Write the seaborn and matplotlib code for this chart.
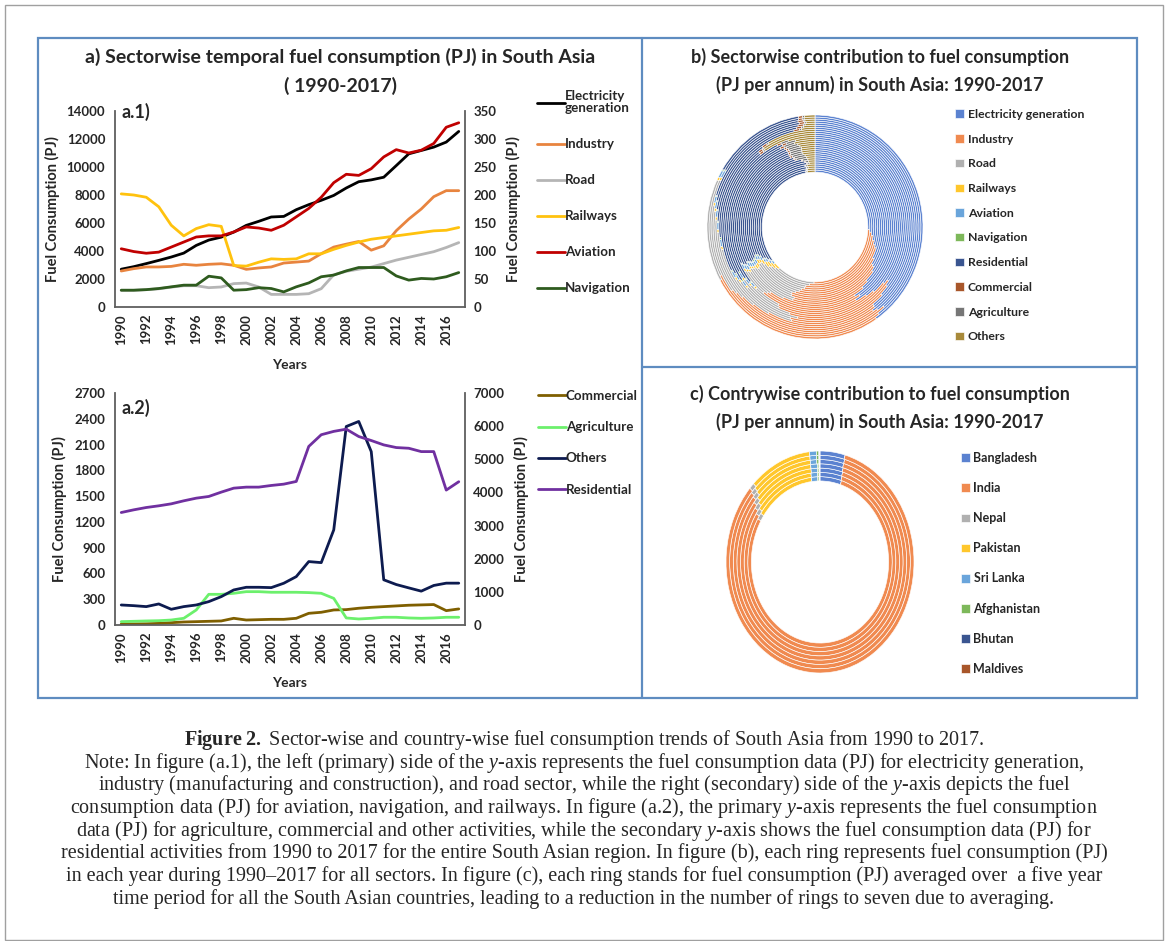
import matplotlib
matplotlib.use("Agg")
import matplotlib.pyplot as plt
import seaborn as sns
import pandas as pd
from matplotlib.patches import Rectangle
from matplotlib.lines import Line2D

# ---------------------------------------------------------------- data
years = list(range(1990, 2018))

# a.1 primary axis (PJ)
electricity = [2700, 2880, 3100, 3330, 3570, 3850, 4400, 4780, 4990, 5350,
               5830, 6120, 6430, 6470, 6950, 7310, 7620, 7970, 8500, 8950,
               9080, 9270, 10100, 10940, 11180, 11420, 11780, 12540]
industry = [2570, 2740, 2860, 2860, 2900, 3050, 2980, 3050, 3090, 2980,
            2690, 2790, 2860, 3140, 3210, 3280, 3810, 4280, 4490, 4680,
            4060, 4370, 5450, 6280, 7000, 7880, 8310, 8310]
road = [1190, 1190, 1240, 1300, 1420, 1520, 1520, 1380, 1430, 1670,
        1710, 1430, 900, 900, 900, 950, 1310, 2300, 2550, 2700,
        2850, 3100, 3350, 3550, 3750, 3950, 4250, 4600]
# a.1 secondary axis (PJ)
railways = [202, 200, 196, 179, 146, 127, 140, 147, 144, 74,
            73, 80, 86, 85, 86, 95, 95, 103, 110, 116,
            121, 124, 127, 130, 133, 136, 137, 142]
aviation = [104, 99, 96, 98, 107, 116, 125, 127, 127, 134,
            143, 141, 137, 146, 161, 176, 196, 222, 237, 235,
            247, 268, 281, 275, 280, 292, 321, 329]
navigation = [30, 30, 31, 33, 36, 39, 39, 55, 52, 30,
              31, 34.5, 33, 27, 36, 43, 54, 57, 64.5, 70.5,
              70.5, 70.5, 55.5, 48, 51, 50, 54, 61.5]

# a.2 primary axis (PJ)
commercial = [12, 12, 14, 19, 27, 35, 39, 43, 47, 78,
              58, 62, 66, 66, 78, 136, 148, 175, 179, 195,
              206, 214, 222, 230, 234, 238, 167, 187]
agriculture = [39, 43, 47, 50, 58, 78, 175, 357, 357, 369,
               388, 388, 381, 381, 381, 377, 369, 310, 82, 70,
               78, 90, 90, 82, 78, 82, 90, 90]
others = [233, 225, 214, 245, 183, 214, 233, 272, 330, 408,
          439, 439, 435, 486, 563, 738, 726, 1107, 2310, 2369,
          2018, 526, 471, 432, 394, 460, 487, 487]
# a.2 secondary axis (PJ)
residential = [3394, 3475, 3545, 3596, 3656, 3747, 3827, 3878, 4009, 4129,
               4160, 4160, 4210, 4250, 4331, 5388, 5741, 5842, 5909, 5687,
               5566, 5434, 5354, 5333, 5232, 5232, 4071, 4323]

# c) country shares of fuel consumption (%), one ring per averaging period
periods = ["P1", "P2", "P3", "P4", "P5", "P6", "P7"]
bangladesh = [4.8, 4.7, 4.6, 4.5, 4.4, 4.4, 4.3]
india = [78.6, 79.3, 80.0, 80.8, 81.5, 81.8, 82.2]
nepal = [1.2, 1.1, 1.1, 1.0, 1.0, 0.9, 0.9]
pakistan = [13.4, 12.9, 12.3, 11.8, 11.2, 11.0, 10.7]
sri_lanka = [1.4, 1.4, 1.3, 1.3, 1.2, 1.2, 1.2]
afghanistan = [0.3, 0.3, 0.3, 0.3, 0.4, 0.4, 0.4]
bhutan = [0.1, 0.1, 0.1, 0.1, 0.1, 0.1, 0.1]
maldives = [0.1, 0.1, 0.1, 0.1, 0.1, 0.1, 0.1]

year_ticks = list(range(1990, 2017, 2))
a1_left_ticks = list(range(0, 14001, 2000))
a1_right_ticks = list(range(0, 351, 50))
a2_left_ticks = list(range(0, 2701, 300))
a2_right_ticks = list(range(0, 7001, 1000))

sector_names = ["Electricity generation", "Industry", "Road", "Railways",
                "Aviation", "Navigation", "Residential", "Commercial",
                "Agriculture", "Others"]
country_names = ["Bangladesh", "India", "Nepal", "Pakistan", "Sri Lanka",
                 "Afghanistan", "Bhutan", "Maldives"]

# ---------------------------------------------------------------- style
sns.set_theme(style="white")
plt.rcParams["font.family"] = ["Lato", "DejaVu Sans"]
plt.rcParams["mathtext.fontset"] = "custom"
plt.rcParams["mathtext.rm"] = "Liberation Serif"
plt.rcParams["mathtext.it"] = "Liberation Serif:italic"
plt.rcParams["mathtext.bf"] = "Liberation Serif:bold"

W, H = 1168, 941
fig = plt.figure(figsize=(W / 100, H / 100), dpi=100)
fig.patch.set_facecolor("white")


def box(x0, y0, x1, y1):
    return [x0 / W, 1 - y1 / H, (x1 - x0) / W, (y1 - y0) / H]


def fx(x):
    return x / W


def fy(y):
    return 1 - y / H


SPINE = "#5f5f5f"
TICK_FS = 9.5
LABEL_FS = 10.5


def style_pair(ax, ax2, lticks, rticks):
    ax.set_xlim(1989.5, 2017.5)
    ax.set_ylim(lticks[0], lticks[-1])
    ax2.set_ylim(rticks[0], rticks[-1])
    ax.set_yticks(lticks)
    ax2.set_yticks(rticks)
    ax.set_xticks(year_ticks)
    ax.set_xticklabels([str(y) for y in year_ticks], rotation=90,
                       fontsize=TICK_FS, fontweight="bold")
    ax.set_yticklabels([str(v) for v in lticks], fontsize=TICK_FS,
                       fontweight="bold")
    ax2.set_yticklabels([str(v) for v in rticks], fontsize=TICK_FS,
                        fontweight="bold")
    ax.tick_params(axis="y", length=0, pad=7)
    ax.tick_params(axis="x", length=0, pad=5)
    ax2.tick_params(axis="y", length=0, pad=6)
    for s in ["top", "right"]:
        ax.spines[s].set_visible(False)
    for s in ["top", "left", "bottom"]:
        ax2.spines[s].set_visible(False)
    for s in ["left", "bottom"]:
        ax.spines[s].set_color(SPINE)
        ax.spines[s].set_linewidth(1.3)
    ax2.spines["right"].set_color(SPINE)
    ax2.spines["right"].set_linewidth(1.3)
    ax.grid(False)
    ax2.grid(False)
    ax.set_xlabel("Years", fontsize=10, fontweight="bold", labelpad=10)
    ax.set_ylabel("Fuel Consumption (PJ)", fontsize=LABEL_FS,
                  fontweight="bold", labelpad=5)
    ax2.set_ylabel("Fuel Consumption (PJ)", fontsize=LABEL_FS,
                   fontweight="bold", labelpad=7)


def draw(ax, values, color, label):
    sns.lineplot(x=years, y=values, color=color, linewidth=2.0, ax=ax,
                 legend=False)
    return Line2D([], [], color=color, linewidth=2.0, label=label)


LEG_FS = 9.6

# ---------------------------------------------------------------- a.1
ax1 = fig.add_axes(box(115, 111, 465, 307))
ax1b = ax1.twinx()
h_elec = draw(ax1, electricity, "#000000", "Electricity\ngeneration")
h_ind = draw(ax1, industry, "#E8843F", "Industry")
h_road = draw(ax1, road, "#B5B5B5", "Road")
h_rail = draw(ax1b, railways, "#FFC20E", "Railways")
h_av = draw(ax1b, aviation, "#C00000", "Aviation")
h_nav = draw(ax1b, navigation, "#2E5B1E", "Navigation")
style_pair(ax1, ax1b, a1_left_ticks, a1_right_ticks)
leg1 = ax1b.legend(handles=[h_elec, h_ind, h_road, h_rail, h_av, h_nav],
                   loc="upper left", bbox_to_anchor=(fx(537), fy(90)),
                   bbox_transform=fig.transFigure, frameon=False,
                   borderpad=0, borderaxespad=0, handlelength=2.1,
                   handletextpad=0.0, labelspacing=1.8,
                   prop=dict(size=LEG_FS, weight="bold"))
for t in leg1.get_texts():
    t.set_linespacing(1.05)
fig.text(fx(122), fy(112), "a.1)", fontsize=13, fontweight="bold",
         ha="left", va="center")

# ---------------------------------------------------------------- a.2
ax2 = fig.add_axes(box(115, 393, 465, 625))
ax2b = ax2.twinx()
h_com = draw(ax2, commercial, "#7F5F00", "Commercial")
h_agr = draw(ax2, agriculture, "#6CF06C", "Agriculture")
h_oth = draw(ax2, others, "#0D1B4F", "Others")
h_res = draw(ax2b, residential, "#7030A0", "Residential")
style_pair(ax2, ax2b, a2_left_ticks, a2_right_ticks)
ax2b.legend(handles=[h_com, h_agr, h_oth, h_res],
            loc="upper left", bbox_to_anchor=(fx(538), fy(390)),
            bbox_transform=fig.transFigure, frameon=False, borderpad=0,
            borderaxespad=0, handlelength=2.1, handletextpad=0.0,
            labelspacing=1.44, prop=dict(size=LEG_FS, weight="bold"))
fig.text(fx(122), fy(408), "a.2)", fontsize=13, fontweight="bold",
         ha="left", va="center")

fig.text(fx(340), fy(57), "a) Sectorwise temporal fuel consumption (PJ) in South Asia",
         fontsize=14, fontweight="bold", ha="center", va="center")
fig.text(fx(340), fy(86), "( 1990-2017)", fontsize=14, fontweight="bold",
         ha="center", va="center")


# ---------------------------------------------------------------- donuts
def donut(ax, table, colors, inner):
    n = len(table)
    w = (1.0 - inner) / n
    wedges = None
    for i, (_, row) in enumerate(table.iterrows()):
        wedges, _ = ax.pie(row.values, radius=inner + (i + 1) * w,
                           colors=colors, startangle=90, counterclock=False,
                           wedgeprops=dict(width=w, edgecolor="white",
                                           linewidth=0.45))
    ax.set_aspect("auto")
    ax.set_xlim(-1, 1)
    ax.set_ylim(-1, 1)
    ax.axis("off")
    return wedges


sector_table = pd.DataFrame({
    "Electricity generation": electricity, "Industry": industry,
    "Road": road, "Railways": railways, "Aviation": aviation,
    "Navigation": navigation, "Residential": residential,
    "Commercial": commercial, "Agriculture": agriculture, "Others": others,
}, index=years)[sector_names]
sector_colors = ["#5B82D0", "#F08A50", "#B0B0B0", "#FFC72C", "#6AA5DB",
                 "#7DB85A", "#3A5590", "#A8562A", "#767676", "#A88A3A"]

axb = fig.add_axes(box(707, 115, 923, 339))
wb = donut(axb, sector_table, sector_colors, 0.49)
axb.legend(wb, sector_names, loc="upper left",
           bbox_to_anchor=(fx(955), fy(109)), bbox_transform=fig.transFigure,
           frameon=False, borderpad=0, borderaxespad=0, handlelength=0.7,
           handleheight=0.7, handletextpad=0.35, labelspacing=1.12,
           prop=dict(size=8.8, weight="bold"))
fig.text(fx(880), fy(57), "b) Sectorwise contribution to fuel consumption",
         fontsize=13, fontweight="bold", ha="center", va="center")
fig.text(fx(880), fy(85), "(PJ per annum) in South Asia: 1990-2017",
         fontsize=13, fontweight="bold", ha="center", va="center")

country_table = pd.DataFrame({
    "Bangladesh": bangladesh, "India": india, "Nepal": nepal,
    "Pakistan": pakistan, "Sri Lanka": sri_lanka,
    "Afghanistan": afghanistan, "Bhutan": bhutan, "Maldives": maldives,
}, index=periods)[country_names]
country_colors = ["#5B82D0", "#F08A50", "#B0B0B0", "#FFC72C", "#6AA5DB",
                  "#7DB85A", "#3A5590", "#A8562A"]

axc = fig.add_axes(box(726, 451, 914, 673))
wc = donut(axc, country_table, country_colors, 0.73)
axc.legend(wc, country_names, loc="upper left",
           bbox_to_anchor=(fx(961), fy(452)), bbox_transform=fig.transFigure,
           frameon=False, borderpad=0, borderaxespad=0, handlelength=0.7,
           handleheight=0.7, handletextpad=0.3, labelspacing=1.45,
           prop=dict(size=9, weight="bold"))
fig.text(fx(880), fy(394), "c) Contrywise contribution to fuel consumption",
         fontsize=13, fontweight="bold", ha="center", va="center")
fig.text(fx(880), fy(422), "(PJ per annum) in South Asia: 1990-2017",
         fontsize=13, fontweight="bold", ha="center", va="center")

# ---------------------------------------------------------------- frames
FRAME = "#5E8CC0"
fig.add_artist(Rectangle((fx(5), fy(940)), fx(1163) - fx(5), fy(5) - fy(940),
                         transform=fig.transFigure, fill=False,
                         edgecolor="#a0a0a0", linewidth=1.0))
fig.add_artist(Rectangle((fx(38), fy(698)), fx(1137) - fx(38),
                         fy(38) - fy(698), transform=fig.transFigure,
                         fill=False, edgecolor=FRAME, linewidth=1.6))
fig.add_artist(Line2D([fx(642), fx(642)], [fy(38), fy(698)],
                      transform=fig.transFigure, color=FRAME, linewidth=1.6))
fig.add_artist(Line2D([fx(642), fx(1137)], [fy(367), fy(367)],
                      transform=fig.transFigure, color=FRAME, linewidth=1.6))

# ---------------------------------------------------------------- caption
caption = [
    r"$\bf{Figure\ 2.}$ Sector-wise and country-wise fuel consumption trends of South Asia from 1990 to 2017.",
    r"Note: In figure (a.1), the left (primary) side of the $\it{y}$-axis represents the fuel consumption data (PJ) for electricity generation,",
    r"industry (manufacturing and construction), and road sector, while the right (secondary) side of the $\it{y}$-axis depicts the fuel",
    r"consumption data (PJ) for aviation, navigation, and railways. In figure (a.2), the primary $\it{y}$-axis represents the fuel consumption",
    r"data (PJ) for agriculture, commercial and other activities, while the secondary $\it{y}$-axis shows the fuel consumption data (PJ) for",
    r"residential activities from 1990 to 2017 for the entire South Asian region. In figure (b), each ring represents fuel consumption (PJ)",
    r"in each year during 1990–2017 for all sectors. In figure (c), each ring stands for fuel consumption (PJ) averaged over  a five year",
    r"time period for all the South Asian countries, leading to a reduction in the number of rings to seven due to averaging.",
]
for i, line in enumerate(caption):
    fig.text(fx(584), fy(740 + i * 22.7), line, fontsize=14.5,
             family="Liberation Serif", ha="center", va="center")

fig.savefig("out.png", dpi=100)
